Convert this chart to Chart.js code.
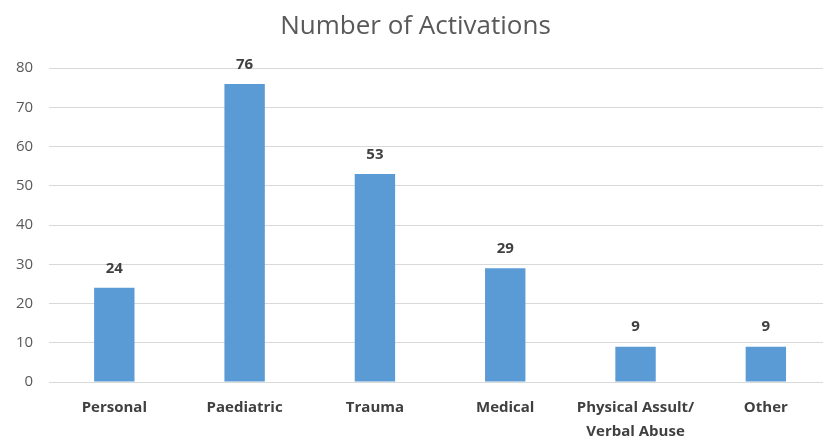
<!DOCTYPE html>
<html>
<head>
<meta charset="utf-8">
<script src="https://cdn.jsdelivr.net/npm/chart.js@4/dist/chart.umd.min.js"></script>
<style>
  html, body { margin: 0; padding: 0; background: #fff; overflow: hidden; }
  #wrap { width: 831px; height: 458px; }
</style>
</head>
<body>
<div id="wrap"><canvas id="chart" width="831" height="458"></canvas></div>
<script>
const categories = ["Personal", "Paediatric", "Trauma", "Medical", ["Physical Assult/", "Verbal Abuse"], "Other"];
const activations = [24, 76, 53, 29, 9, 9];
const yTicks = [0, 10, 20, 30, 40, 50, 60, 70, 80];

const FONT = "'Open Sans', 'Liberation Sans', sans-serif";

// labels above the bars, positioned from the bar elements
const valueLabels = {
  id: "valueLabels",
  afterDatasetsDraw(chart) {
    const ctx = chart.ctx;
    const meta = chart.getDatasetMeta(0);
    ctx.save();
    ctx.font = "bold 15px " + FONT;
    ctx.fillStyle = "#404040";
    ctx.textAlign = "center";
    ctx.textBaseline = "bottom";
    meta.data.forEach((bar, i) => {
      ctx.fillText(String(activations[i]), bar.x, bar.y - 12);
    });
    ctx.restore();
  }
};

new Chart(document.getElementById("chart"), {
  type: "bar",
  data: {
    labels: categories,
    datasets: [{
      label: "Number of Activations",
      data: activations,
      backgroundColor: "#5b9bd5",
      barPercentage: 0.62,
      categoryPercentage: 0.5
    }]
  },
  plugins: [valueLabels],
  options: {
    responsive: false,
    animation: false,
    layout: { padding: { top: 0, left: 0, right: 0, bottom: 0 } },
    plugins: {
      legend: { display: false },
      tooltip: { enabled: false },
      title: {
        display: true,
        text: "Number of Activations",
        color: "#595959",
        font: { family: FONT, size: 26, weight: "normal" },
        padding: { top: 11, bottom: 26 }
      }
    },
    scales: {
      x: {
        grid: { display: false, drawTicks: false },
        border: { display: false },
        ticks: {
          color: "#404040",
          font: { family: FONT, size: 15, weight: "bold", lineHeight: 1.6 },
          padding: 14,
          maxRotation: 0,
          autoSkip: false
        }
      },
      y: {
        min: 0,
        max: 80,
        afterBuildTicks: (axis) => { axis.ticks = yTicks.map((v) => ({ value: v })); },
        grid: { color: "#d9d9d9", drawTicks: false },
        border: { display: false },
        ticks: {
          color: "#595959",
          font: { family: FONT, size: 15 },
          padding: 16
        }
      }
    }
  }
});
</script>
</body>
</html>
